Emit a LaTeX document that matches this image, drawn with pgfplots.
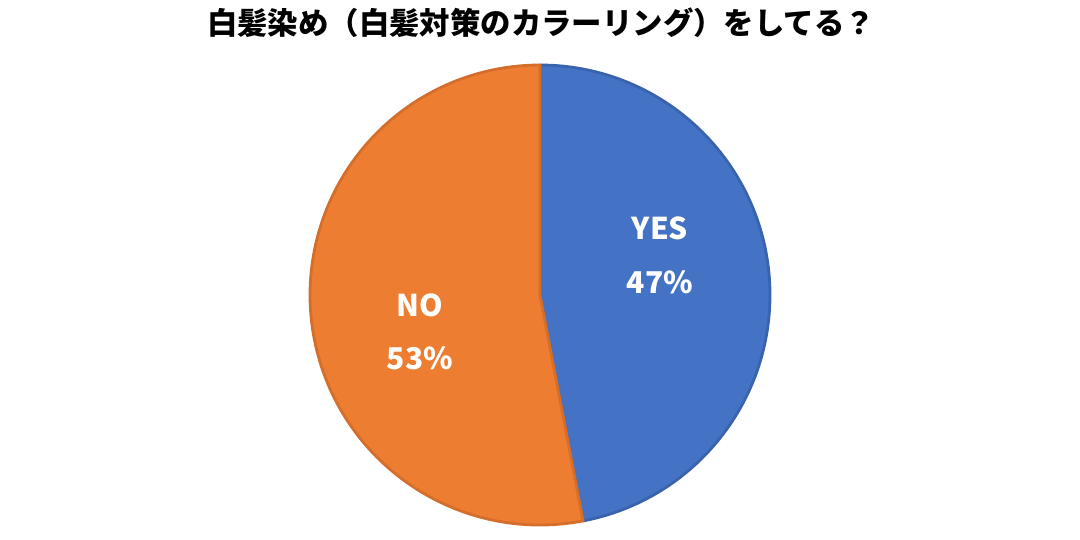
\documentclass[border=0pt]{standalone}
\usepackage{fontspec}
\setmainfont{Noto Sans CJK JP}
\usepackage{pgfplots}
\usepackage{pgfplotstable}
\pgfplotsset{compat=1.18}

\definecolor{yesfill}{HTML}{4472C4}
\definecolor{yesedge}{HTML}{3A63AE}
\definecolor{nofill}{HTML}{ED7D31}
\definecolor{noedge}{HTML}{D46E2A}

% share in percent
\pgfplotstableread{
label value
YES 47
NO 53
}\piedata

\begin{document}
\begin{tikzpicture}
\path[use as bounding box] (0,0) rectangle (540pt,270pt);
\pgfplotstablegetelem{0}{value}\of\piedata \let\yesval\pgfplotsretval
\pgfplotstablegetelem{1}{value}\of\piedata \let\noval\pgfplotsretval
\pgfmathsetmacro{\aend}{90-3.6*\yesval}
\pgfmathsetmacro{\bend}{\aend-3.6*\noval}
\begin{axis}[
    x=1pt, y=1pt,
    xmin=-120, xmax=120, ymin=-120, ymax=120,
    hide axis,
    clip=false,
    anchor=center,
    at={(270pt,122.5pt)},
]
\filldraw[fill=yesfill, draw=yesedge, line width=1.4pt, line join=round]
  (axis cs:0,0) -- (axis cs:0,115) arc[start angle=90, end angle=\aend, radius=115pt] -- cycle;
\filldraw[fill=nofill, draw=noedge, line width=1.4pt, line join=round]
  (axis cs:0,0) -- ({115*cos(\aend)},{115*sin(\aend)}) arc[start angle=\aend, end angle=\bend, radius=115pt] -- cycle;
\node[text=white, font=\fontsize{15}{18}\selectfont\bfseries] at (axis cs:60,33.5) {YES};
\node[text=white, font=\fontsize{15}{18}\selectfont\bfseries] at (axis cs:60,6.5) {\yesval\%};
\node[text=white, font=\fontsize{15}{18}\selectfont\bfseries] at (axis cs:-60,-5) {NO};
\node[text=white, font=\fontsize{15}{18}\selectfont\bfseries] at (axis cs:-60,-31.5) {\noval\%};
\end{axis}
\node[font=\fontsize{15.2}{18}\selectfont\bfseries] at (270.5pt,258.5pt) {白髪染め（白髪対策のカラーリング）をしてる？};
\end{tikzpicture}
\end{document}
